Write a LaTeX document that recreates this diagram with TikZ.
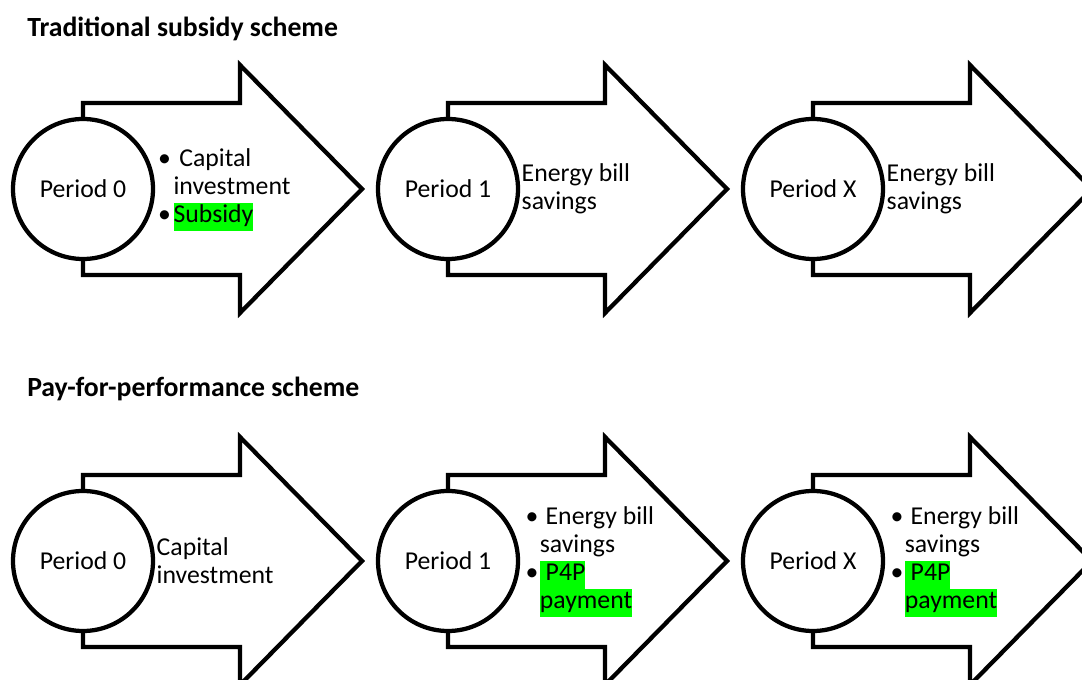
\documentclass[tikz,border=0pt]{standalone}
\usepackage{fontspec}
\setmainfont{Carlito}
\usetikzlibrary{positioning}
\definecolor{hlgreen}{RGB}{0,255,0}
\newcommand{\hlg}[1]{{\setlength{\fboxsep}{0pt}\colorbox{hlgreen}{\strut #1}}}

\begin{document}
\begin{tikzpicture}[
  x=0.75pt, y=-0.75pt,
  every node/.style={font=\fontsize{19.3}{21}\selectfont},
  period/.style={circle, draw, line width=3.2pt, fill=white, minimum size=105pt, inner sep=0pt},
  bigarrow/.style={draw, line width=3.2pt, fill=white, line join=miter},
  note/.style={inner sep=0pt, align=left},
  title/.style={anchor=west, inner sep=0pt, font=\fontsize{20.8}{24}\selectfont\bfseries}]

  \useasboundingbox (0,0) rectangle (1082,680);

  \foreach \r/\y in {t/189, b/561}
    \foreach \p/\x in {0/83, 1/448, X/813} {
      \draw[bigarrow] (\x,\y-86) -- ++(157,0) -- ++(0,-38) -- (\x+279,\y)
        -- (\x+157,\y+124) -- ++(0,-38) -- (\x,\y+86) -- cycle;
      \node[period] (\r\p) at (\x,\y) {Period \p};
    }

  \node[title] (toptitle) at (27,29) {Traditional subsidy scheme};
  \node[title] (bottitle) at (27,389) {Pay-for-performance scheme};

  \node[note, right=2pt of t0] (t0note) {\begin{tabular}{@{}l@{\hspace{2pt}}l@{}}
    \textbullet & \ Capital\\ & investment\\ \textbullet & \hlg{Subsidy}\end{tabular}};
  \node[note, right=1pt of t1] (t1note) {Energy bill\\savings};
  \node[note, right=1pt of tX] (tXnote) {Energy bill\\savings};

  \node[note, right=1pt of b0] (b0note) {Capital\\investment};
  \node[note, right=4pt of b1] (b1note) {\begin{tabular}{@{}l@{\hspace{1pt}}l@{}}
    \textbullet & \ Energy bill\\ & savings\\ \textbullet & \hlg{\ P4P}\\ & \hlg{payment}\end{tabular}};
  \node[note, right=4pt of bX] (bXnote) {\begin{tabular}{@{}l@{\hspace{1pt}}l@{}}
    \textbullet & \ Energy bill\\ & savings\\ \textbullet & \hlg{\ P4P}\\ & \hlg{payment}\end{tabular}};
\end{tikzpicture}
\end{document}
